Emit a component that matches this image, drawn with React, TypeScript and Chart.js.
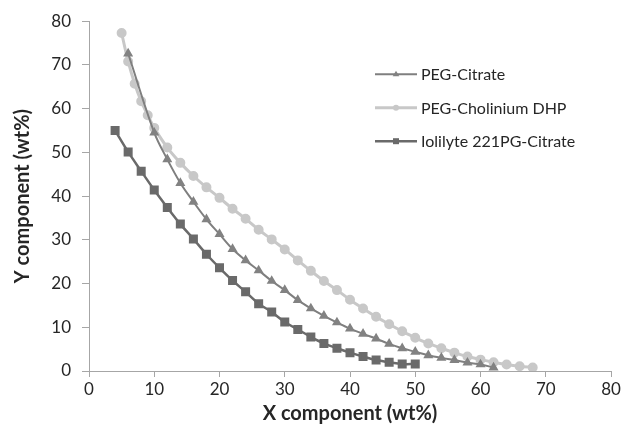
import React, { useEffect, useRef } from 'react';
import { Chart, registerables } from 'chart.js';

Chart.register(...registerables);

// PEG-Citrate (triangles)
const citrateX = [6, 10, 12, 14, 16, 18, 20, 22, 24, 26, 28, 30, 32, 34, 36, 38, 40, 42, 44, 46, 48, 50, 52, 54, 56, 58, 60, 62];
const citrateY = [72.6, 54.5, 48.4, 43.0, 38.7, 34.7, 31.3, 27.9, 25.3, 23.0, 20.6, 18.5, 16.2, 14.3, 12.6, 11.1, 9.7, 8.5, 7.4, 6.2, 5.2, 4.4, 3.6, 3.0, 2.5, 1.9, 1.5, 0.8];

// PEG-Cholinium DHP (circles)
const cholX = [5, 6, 7, 8, 9, 10, 12, 14, 16, 18, 20, 22, 24, 26, 28, 30, 32, 34, 36, 38, 40, 42, 44, 46, 48, 50, 52, 54, 56, 58, 60, 62, 64, 66, 68];
const cholY = [77.3, 70.8, 65.7, 61.7, 58.5, 55.6, 51.1, 47.6, 44.6, 42.0, 39.6, 37.1, 34.8, 32.3, 30.1, 27.8, 25.3, 22.9, 20.6, 18.5, 16.3, 14.3, 12.4, 10.7, 9.1, 7.6, 6.3, 5.2, 4.2, 3.3, 2.6, 2.0, 1.5, 1.1, 0.8];

// Iolilyte 221PG-Citrate (squares)
const ioliX = [4, 6, 8, 10, 12, 14, 16, 18, 20, 22, 24, 26, 28, 30, 32, 34, 36, 38, 40, 42, 44, 46, 48, 50];
const ioliY = [55.0, 50.1, 45.7, 41.4, 37.4, 33.6, 30.2, 26.7, 23.6, 20.7, 18.1, 15.4, 13.5, 11.2, 9.5, 7.8, 6.3, 5.2, 4.2, 3.3, 2.5, 2.0, 1.6, 1.6];

const seriesNames = ['PEG-Citrate', 'PEG-Cholinium DHP', 'Iolilyte 221PG-Citrate'];
const xTitle = 'X component (wt%)';
const yTitle = 'Y component (wt%)';

const FONT = 'Lato, "Open Sans", sans-serif';
const AXIS_COLOR = '#a6a6a6';
const TEXT_COLOR = '#262626';

const toPts = (xs: number[], ys: number[]) => xs.map((x, i) => ({ x, y: ys[i] }));

const legendPlugin = {
  id: 'customLegend',
  afterDraw(chart: any) {
    const { ctx, chartArea } = chart;
    const x0 = chartArea.left + 286;
    const y0 = chartArea.top + 53;
    const rowH = 33.5;
    const lineLen = 42;
    ctx.save();
    chart.data.datasets.forEach((ds: any, i: number) => {
      const y = y0 + i * rowH;
      ctx.strokeStyle = ds.borderColor;
      ctx.lineWidth = ds.borderWidth;
      ctx.beginPath();
      ctx.moveTo(x0, y);
      ctx.lineTo(x0 + lineLen, y);
      ctx.stroke();
      const cx = x0 + lineLen / 2;
      ctx.fillStyle = ds.pointBackgroundColor;
      ctx.beginPath();
      if (ds.pointStyle === 'triangle') {
        const r = 3.5;
        ctx.moveTo(cx, y - r);
        ctx.lineTo(cx + r * 0.95, y + r * 0.6);
        ctx.lineTo(cx - r * 0.95, y + r * 0.6);
        ctx.closePath();
      } else if (ds.pointStyle === 'rect') {
        ctx.rect(cx - 3, y - 3, 6, 6);
      } else {
        ctx.arc(cx, y, 3, 0, Math.PI * 2);
      }
      ctx.fill();
      ctx.fillStyle = TEXT_COLOR;
      ctx.font = `16px ${FONT}`;
      ctx.textAlign = 'left';
      ctx.textBaseline = 'middle';
      ctx.fillText(ds.label, x0 + lineLen + 4, y + 1);
    });
    ctx.restore();
  },
};

export default function App() {
  const ref = useRef<HTMLCanvasElement | null>(null);

  useEffect(() => {
    document.body.style.margin = '0';
    const canvas = ref.current;
    if (!canvas) return;
    const chart = new Chart(canvas, {
      type: 'scatter',
      data: {
        datasets: [
          {
            label: seriesNames[0],
            data: toPts(citrateX, citrateY),
            showLine: true,
            borderColor: '#7f7f7f',
            backgroundColor: '#7f7f7f',
            pointBackgroundColor: '#828282',
            pointBorderColor: '#828282',
            pointStyle: 'triangle',
            pointRadius: 3.8,
            borderWidth: 2,
            tension: 0.35,
          },
          {
            label: seriesNames[1],
            data: toPts(cholX, cholY),
            showLine: true,
            borderColor: '#c8c8c8',
            backgroundColor: '#c8c8c8',
            pointBackgroundColor: '#c8c8c8',
            pointBorderColor: '#c8c8c8',
            pointStyle: 'circle',
            pointRadius: 3.5,
            borderWidth: 3,
            tension: 0.35,
          },
          {
            label: seriesNames[2],
            data: toPts(ioliX, ioliY),
            showLine: true,
            borderColor: '#6a6a6a',
            backgroundColor: '#6a6a6a',
            pointBackgroundColor: '#6a6a6a',
            pointBorderColor: '#6a6a6a',
            pointStyle: 'rect',
            pointRadius: 4.6,
            borderWidth: 2.5,
            tension: 0.35,
          },
        ],
      },
      options: {
        responsive: false,
        animation: false,
        layout: { padding: { top: 20, right: 13, left: 0, bottom: 0 } },
        plugins: {
          legend: { display: false },
          tooltip: { enabled: false },
        },
        scales: {
          x: {
            type: 'linear',
            min: 0,
            max: 80,
            afterFit: (s: any) => { s.height = 61; },
            ticks: { stepSize: 10, color: TEXT_COLOR, font: { family: FONT, size: 17 }, padding: 2 },
            grid: { display: true, drawOnChartArea: false, drawTicks: true, tickLength: 6, color: AXIS_COLOR, lineWidth: 1 },
            border: { display: true, color: AXIS_COLOR, width: 1 },
            title: { display: true, text: xTitle, color: TEXT_COLOR, font: { family: FONT, size: 20, weight: 'bold' }, padding: { top: 0, bottom: 6 } },
          },
          y: {
            type: 'linear',
            min: 0,
            max: 80,
            afterFit: (s: any) => { s.width = 89; },
            ticks: { stepSize: 10, color: TEXT_COLOR, font: { family: FONT, size: 17 }, padding: 11 },
            grid: { display: true, drawOnChartArea: false, drawTicks: true, tickLength: 7, color: AXIS_COLOR, lineWidth: 1 },
            border: { display: true, color: AXIS_COLOR, width: 1 },
            title: { display: true, text: yTitle, color: TEXT_COLOR, font: { family: FONT, size: 20, weight: 'bold' }, padding: { top: 11, bottom: 0 } },
          },
        },
      },
      plugins: [legendPlugin],
    });
    return () => chart.destroy();
  }, []);

  return (
    <div style={{ width: 624, height: 432 }}>
      <canvas ref={ref} width={624} height={432} style={{ display: 'block' }} />
    </div>
  );
}
